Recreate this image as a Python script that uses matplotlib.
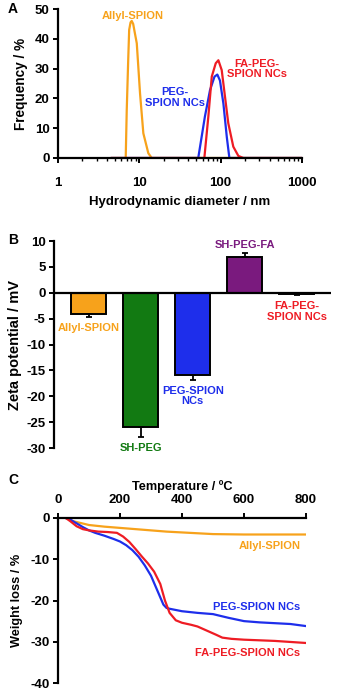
import matplotlib
matplotlib.use('Agg')
import matplotlib.pyplot as plt

plt.rcParams['font.family'] = ['Liberation Sans', 'DejaVu Sans']
plt.rcParams['font.weight'] = 'bold'
plt.rcParams['axes.unicode_minus'] = False

ORANGE = '#F7A21B'
BLUE = '#1E2EEB'
RED = '#EE1C24'
GREEN = '#127A12'
PURPLE = '#7A1A7E'

# A: DLS size distribution
allyl_d = [4.6, 6.8, 7.0, 7.3, 7.5, 7.8, 8.06, 8.4, 8.8, 9.3, 10.2, 11.2, 12.9, 14.2, 1000]
allyl_f = [0, 0, 16, 33, 43, 45.5, 46, 45, 42, 38.5, 21.7, 8.3, 1.6, 0, 0]
peg_d = [4.6, 53, 64, 74, 84, 91, 98, 108, 119, 128, 1000]
peg_f = [0, 0, 13.9, 22.8, 27.3, 28, 26, 18.3, 7, 0, 0]
fa_d = [4.6, 63, 70.6, 77.7, 87, 93.7, 103, 113, 124, 143, 165, 190, 1000]
fa_f = [0, 0, 14, 27.3, 31.8, 32.8, 29.5, 20.6, 11.7, 3.8, 0.7, 0, 0]

# B: zeta potential
zeta_names = ['Allyl-SPION', 'SH-PEG', 'PEG-SPION\nNCs', 'SH-PEG-FA', 'FA-PEG-\nSPION NCs']
zeta_vals = [-4.2, -26.0, -15.8, 7.0, -0.3]
zeta_err = [0.4, 1.8, 1.0, 0.6, 0.1]
zeta_cols = [ORANGE, GREEN, BLUE, PURPLE, RED]

# C: TGA
allyl_t = [25, 50, 100, 150, 200, 250, 300, 350, 400, 450, 500, 600, 700, 800]
allyl_w = [0, -0.8, -1.7, -2.1, -2.4, -2.7, -3.0, -3.3, -3.5, -3.7, -3.9, -4.0, -4.0, -4.0]
peg_t = [25, 40, 60, 80, 100, 120, 150, 180, 200, 220, 240, 260, 280, 300, 320, 340, 350,
         360, 380, 400, 450, 500, 550, 600, 650, 700, 750, 800]
peg_w = [0, -0.4, -1.3, -2.2, -3.0, -3.6, -4.3, -5.1, -5.7, -6.6, -7.8, -9.4, -11.5, -14.0,
         -17.5, -21.0, -21.8, -22.0, -22.3, -22.6, -23.0, -23.3, -24.2, -25.0, -25.3, -25.5,
         -25.7, -26.2]
fa_t = [25, 40, 60, 80, 100, 130, 160, 190, 210, 230, 250, 270, 290, 310, 330, 345, 360, 380,
        400, 430, 450, 480, 510, 530, 560, 600, 700, 800]
fa_w = [0, -0.8, -2.0, -2.7, -3.0, -3.3, -3.4, -3.6, -4.5, -5.8, -7.5, -9.3, -11.0, -13.0,
        -16.0, -20.0, -23.0, -24.8, -25.4, -25.9, -26.3, -27.3, -28.3, -29.0, -29.3, -29.5,
        -29.8, -30.3]

fs = 9.5     # ticks / axis labels
fa = 8.0     # annotations
fig = plt.figure(figsize=(3.37, 6.93), dpi=100)


def style(ax):
    for s in ax.spines.values():
        s.set_linewidth(1.6)
    ax.tick_params(which='major', width=1.4, length=3.5, labelsize=fs, pad=2.5)
    ax.tick_params(which='minor', width=1.0, length=2.2)


# ---- A ----
axA = fig.add_axes([58 / 337, 1 - 158 / 693, 244 / 337, 149 / 693])
axA.plot(allyl_d, allyl_f, color=ORANGE, lw=1.6)
axA.plot(peg_d, peg_f, color=BLUE, lw=1.6)
axA.plot(fa_d, fa_f, color=RED, lw=1.6)
axA.set_xscale('log')
axA.set_xlim(1, 1000)
axA.set_ylim(0, 50)
axA.set_yticks([0, 10, 20, 30, 40, 50])
axA.set_xticks([1, 10, 100, 1000])
axA.set_xticklabels(['1', '10', '100', '1000'])
axA.spines['top'].set_visible(False)
axA.spines['right'].set_visible(False)
style(axA)
axA.tick_params(axis='x', pad=10)
axA.set_xlabel('Hydrodynamic diameter / nm', fontsize=fs, fontweight='bold', labelpad=5)
axA.set_ylabel('Frequency / %', fontsize=fs + 0.3, fontweight='bold', labelpad=5)
axA.text(8.4, 47.8, 'Allyl-SPION', color=ORANGE, fontsize=fa, ha='center', va='center')
axA.text(27.5, 20.3, 'PEG-\nSPION NCs', color=BLUE, fontsize=fa, ha='center', va='center',
         linespacing=1.05)
axA.text(280, 29.9, 'FA-PEG-\nSPION NCs', color=RED, fontsize=fa, ha='center', va='center',
         linespacing=1.05)

# ---- B ----
axB = fig.add_axes([54 / 337, 1 - 448 / 693, 277 / 337, 207 / 693])
xs = list(range(len(zeta_vals)))
lower = [e if v < 0 else 0 for v, e in zip(zeta_vals, zeta_err)]
upper = [e if v >= 0 else 0 for v, e in zip(zeta_vals, zeta_err)]
axB.bar(xs, zeta_vals, width=0.67, color=zeta_cols, edgecolor='black', linewidth=1.4,
        yerr=[lower, upper], error_kw=dict(ecolor='black', elinewidth=1.3, capsize=2.5,
                                           capthick=1.3))
axB.axhline(0, color='black', lw=1.6)
axB.set_xlim(-0.67, 4.66)
axB.set_ylim(-30, 10)
axB.set_yticks(range(-30, 11, 5))
axB.set_xticks([])
for s in ['top', 'right', 'bottom']:
    axB.spines[s].set_visible(False)
style(axB)
axB.set_ylabel('Zeta potential / mV', fontsize=10.5, fontweight='bold', labelpad=3)
axB.text(0, -6.8, zeta_names[0], color=ORANGE, fontsize=fa, ha='center', va='center')
axB.text(1, -30.0, zeta_names[1], color=GREEN, fontsize=fa, ha='center', va='center')
axB.text(2, -20.0, zeta_names[2], color=BLUE, fontsize=fa, ha='center', va='center',
         linespacing=1.05)
axB.text(3, 9.2, zeta_names[3], color=PURPLE, fontsize=fa, ha='center', va='center')
axB.text(4, -3.6, zeta_names[4], color=RED, fontsize=fa, ha='center', va='center',
         linespacing=1.05)

# ---- C ----
axC = fig.add_axes([58 / 337, 1 - 683 / 693, 248 / 337, 165 / 693])
axC.plot(allyl_t, allyl_w, color=ORANGE, lw=1.6)
axC.plot(peg_t, peg_w, color=BLUE, lw=1.6)
axC.plot(fa_t, fa_w, color=RED, lw=1.6)
axC.set_xlim(0, 800)
axC.set_ylim(-40, 0)
axC.set_xticks([0, 200, 400, 600, 800])
axC.set_yticks([0, -10, -20, -30, -40])
axC.xaxis.tick_top()
axC.xaxis.set_label_position('top')
axC.spines['bottom'].set_visible(False)
axC.spines['right'].set_visible(False)
style(axC)
axC.tick_params(axis='x', pad=5)
axC.set_xlabel('Temperature / ºC', fontsize=9.2, fontweight='bold', labelpad=3)
axC.set_ylabel('Weight loss / %', fontsize=9.2, fontweight='bold', labelpad=5)
axC.text(782, -6.7, 'Allyl-SPION', color=ORANGE, fontsize=fa, ha='right', va='center')
axC.text(782, -21.6, 'PEG-SPION NCs', color=BLUE, fontsize=fa, ha='right', va='center')
axC.text(782, -32.8, 'FA-PEG-SPION NCs', color=RED, fontsize=fa, ha='right', va='center')

# panel letters
fig.text(8 / 337, 1 - 9 / 693, 'A', fontsize=10, fontweight='bold', ha='left', va='center')
fig.text(8 / 337, 1 - 240 / 693, 'B', fontsize=10, fontweight='bold', ha='left', va='center')
fig.text(8 / 337, 1 - 480 / 693, 'C', fontsize=10, fontweight='bold', ha='left', va='center')

fig.savefig('out.png', dpi=100)
